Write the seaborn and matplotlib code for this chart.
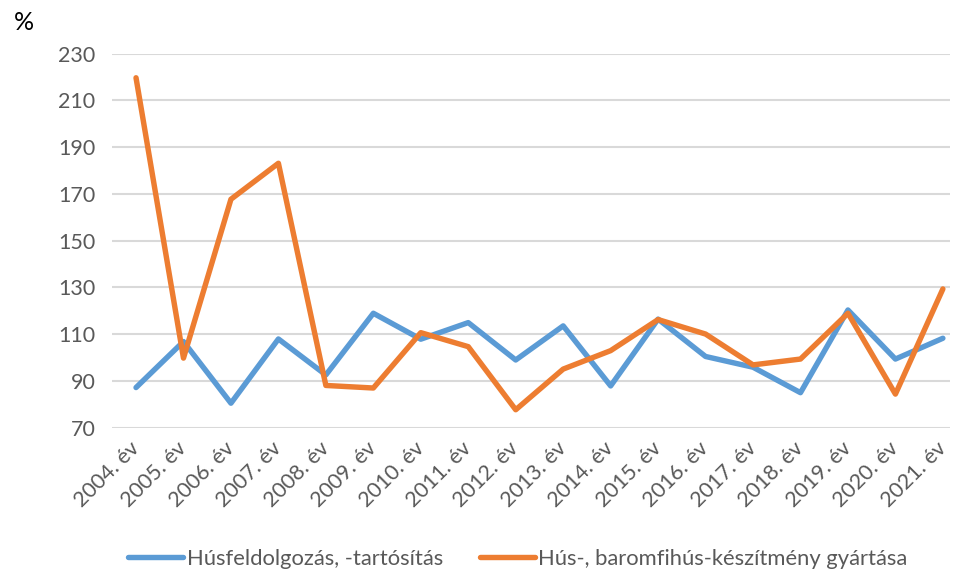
import matplotlib.pyplot as plt
import pandas as pd
import seaborn as sns

years = [f"{y}. év" for y in range(2004, 2022)]
husfeldolgozas = [87.1, 106.8, 80.4, 107.9, 92.5, 118.9, 107.8, 114.9, 98.9, 113.5,
                  87.8, 116.4, 100.4, 95.8, 84.9, 120.3, 99.3, 108.2]
hus_keszitmeny = [219.7, 99.7, 167.7, 183.1, 88.0, 86.9, 110.6, 104.6, 77.6, 95.0,
                  102.9, 116.2, 110.0, 96.8, 99.3, 118.9, 84.3, 129.3]
series_names = ["Húsfeldolgozás, -tartósítás", "Hús-, baromfihús-készítmény gyártása"]

df = pd.DataFrame({
    "ev": years * 2,
    "x": list(range(len(years))) * 2,
    "ertek": husfeldolgozas + hus_keszitmeny,
    "sorozat": [series_names[0]] * len(years) + [series_names[1]] * len(years),
})

sns.set_style("white")
plt.rcParams['font.family'] = ['Lato', 'DejaVu Sans']

fig = plt.figure(figsize=(9.59, 5.73), dpi=100)
ax = fig.add_axes([112 / 959, 1 - 427.5 / 573, (950 - 112) / 959, (427.5 - 53.7) / 573])

sns.lineplot(data=df, x="x", y="ertek", hue="sorozat", ax=ax,
             palette=["#5B9BD5", "#ED7D31"], linewidth=3.9, legend=False,
             solid_capstyle="round", solid_joinstyle="round")

ax.set_ylim(70, 230)
ax.set_xlim(-0.506, 17.15)
ax.set_yticks(range(70, 231, 20))
ax.yaxis.grid(True, color="#D9D9D9", linewidth=1.5)
ax.set_axisbelow(True)
for s in ax.spines.values():
    s.set_visible(False)

ax.set_xticks(range(len(years)))
ax.set_xticklabels(years, rotation=45, ha="right", va="center", rotation_mode="anchor")
ax.tick_params(axis="both", length=0, labelsize=15.5, labelcolor="#595959")
ax.tick_params(axis="x", pad=13)
ax.tick_params(axis="y", pad=12)
ax.set_xlabel("")
ax.set_ylabel("")

fig.text(24 / 959, 1 - 23 / 573, "%", fontsize=18, color="black", ha="center", va="center")

handles = [plt.Line2D([], [], color=c, linewidth=3.9, solid_capstyle="round") for c in ["#5B9BD5", "#ED7D31"]]
fig.legend(handles, series_names, loc="center", bbox_to_anchor=(518 / 959, 1 - 559 / 573),
           ncol=2, frameon=False, fontsize=15.8, handlelength=2.5, handletextpad=0.15,
           columnspacing=1.7, labelcolor="#595959")

fig.savefig("out.png", dpi=100)
